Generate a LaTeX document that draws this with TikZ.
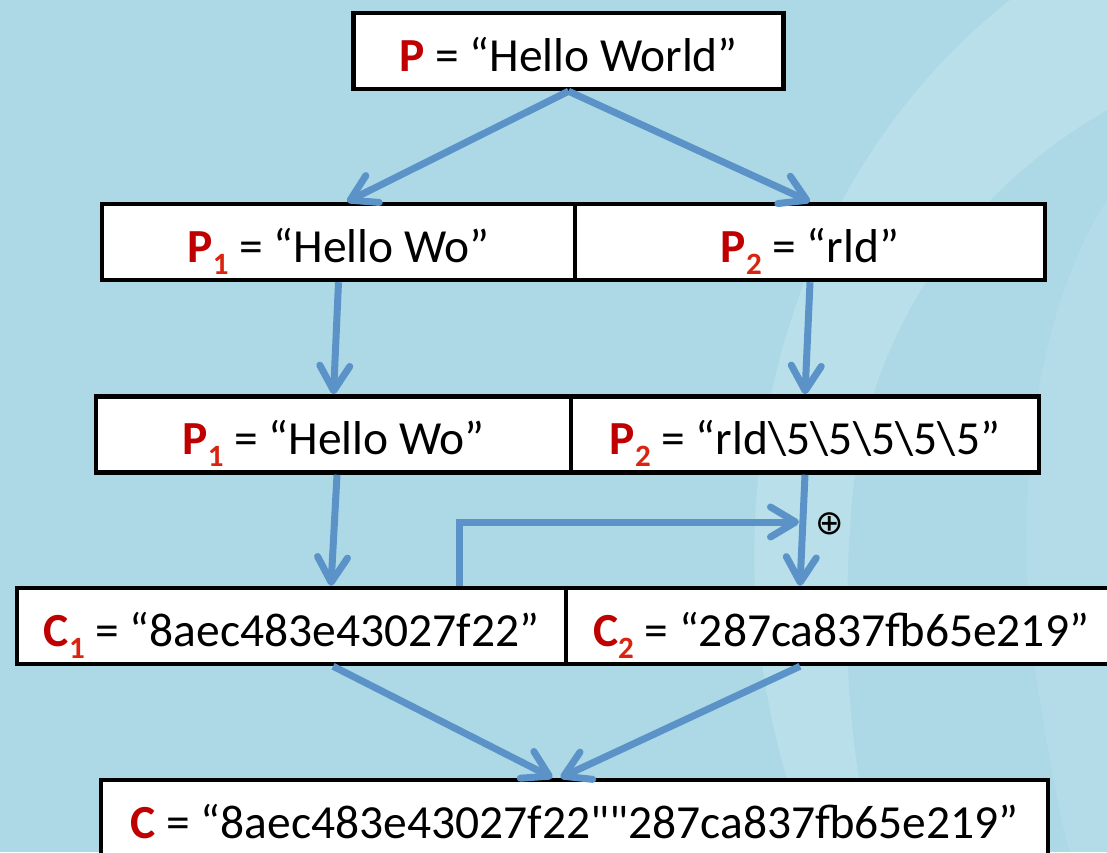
\documentclass[tikz,border=0pt]{standalone}
\usepackage{fontspec}
\setmainfont{Carlito}
\newfontfamily\symfont{DejaVu Sans}
\usetikzlibrary{arrows.meta,calc}
\definecolor{bgblue}{HTML}{ADD9E6}
\definecolor{swirl}{HTML}{C4E6EE}
\definecolor{arrowblue}{HTML}{5B93C9}
\definecolor{pred}{HTML}{C00000}
\definecolor{subred}{HTML}{D9250F}
\newcommand{\Rd}[1]{\textbf{\color{pred}#1}}
\newcommand{\Sb}[1]{\raisebox{-12pt}{\fontsize{31pt}{31pt}\selectfont\bfseries\color{subred}#1}}
\newcommand{\bs}{\textbackslash}
\newcommand{\sq}{\XeTeXglyph\XeTeXcharglyph"22\relax}
\begin{document}
\begin{tikzpicture}[x=1pt,y=-1pt,
  box/.style={draw=black, fill=white, line width=4.5pt, minimum height=76pt, inner sep=0pt,
    text height=46pt, text depth=6pt, font=\fontsize{47.5pt}{50pt}\selectfont},
  arr/.style={draw=arrowblue, line width=7pt, -{Straight Barb[length=25pt,width=30pt,round]}},
  swirlfill/.style={fill=swirl, opacity=0.5},
]
\useasboundingbox (0,0) rectangle (1107,852);
\clip (0,0) rectangle (1107,852);
\fill[bgblue] (0,0) rectangle (1107,852);
% light swirl bands
\fill[swirlfill] (1010,0) .. controls (820,150) and (730,400) .. (760,650)
  .. controls (775,760) and (800,820) .. (815,852) -- (875,852)
  .. controls (850,760) and (840,650) .. (852,500)
  .. controls (865,350) and (950,200) .. (1107,110) -- (1107,0) -- cycle;
\fill[swirlfill, opacity=0.3] (1107,200) .. controls (1030,320) and (1010,520) .. (1040,700)
  .. controls (1050,760) and (1060,820) .. (1070,852) -- (1107,852) -- cycle;

\node[box, minimum width=430pt] (top) at (568.5,51) {\Rd{P} = “Hello World”};
\node[box, minimum width=473pt] (r2l) at (338.5,242) {\Rd{P}\Sb{1} = “Hello Wo”};
\node[box, minimum width=470pt] (r2r) at (810,242) {\Rd{P}\Sb{2} = “rld”};
\node[box, minimum width=475pt] (r3l) at (333.5,434.5) {\Rd{P}\Sb{1} = “Hello Wo”};
\node[box, minimum width=468pt] (r3r) at (805,434.5) {\Rd{P}\Sb{2} = “rld\bs 5\bs 5\bs 5\bs 5\bs 5”};
\node[box, minimum width=549pt] (r4l) at (291.5,626) {\Rd{C}\Sb{1} = “8aec483e43027f22”};
\node[box, minimum width=550pt] (r4r) at (841,626) {\Rd{C}\Sb{2} = “287ca837fb65e219”};
\node[box, minimum width=947pt] (r5) at (574.5,818) {\Rd{C} = “8aec483e43027f22\sq\sq 287ca837fb65e219”};

\draw[arr] (top.south) -- ($(r2l.north)+(8.5,0)$);
\draw[arr] (top.south) -- (r2r.north);
\draw[arr] (r2l.south) -- (r3l.north);
\draw[arr] (r2r.south) -- (r3r.north);
\draw[arr] ($(r3l.south)+(3.5,0)$) -- ($(r4l.north)+(39.5,0)$);
\draw[arr] (r3r.south) -- ($(r4r.north)+(-41,0)$);
\coordinate (xorpt) at (799,522);
\draw[arr] ($(r4l.north)+(167.5,0)$) |- (xorpt);
\node[font=\symfont\fontsize{34pt}{34pt}\selectfont, inner sep=0pt] (xorsym) at (830,524) {⊕};
\draw[arr] ($(r4l.south)+(41.5,0)$) -- ($(r5.north)+(-22,0)$);
\draw[arr] ($(r4r.south)+(-41,0)$) -- ($(r5.north)+(-14,0)$);
\end{tikzpicture}
\end{document}
